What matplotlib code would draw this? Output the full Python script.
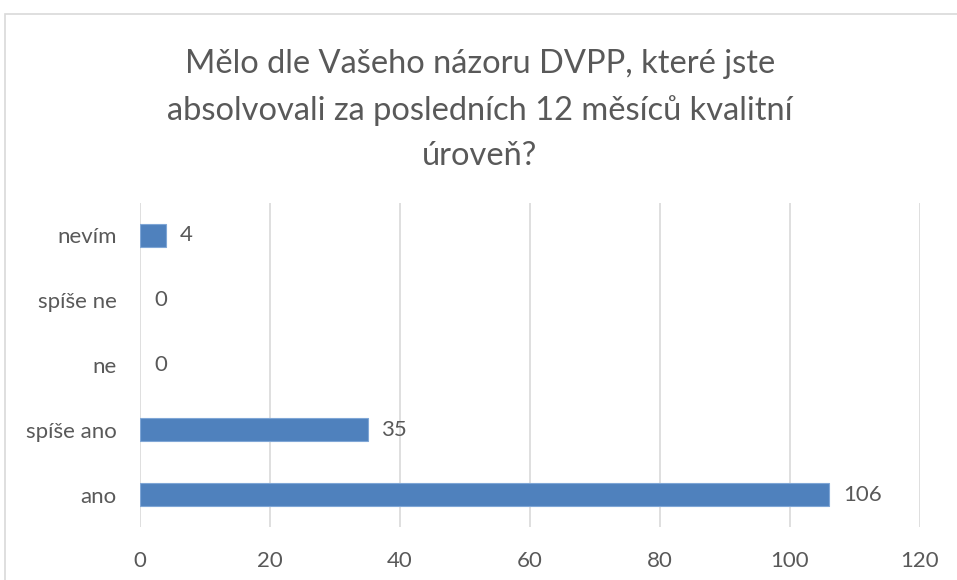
import matplotlib.pyplot as plt
from matplotlib.patches import Rectangle

categories = ['ano', 'spíše ano', 'ne', 'spíše ne', 'nevím']
values = [106, 35, 0, 0, 4]
title = 'Mělo dle Vašeho názoru DVPP, které jste\nabsolvovali za posledních 12 měsíců kvalitní\núroveň?'

plt.rcParams['font.family'] = ['Lato', 'DejaVu Sans']
text_color = '#595959'

fig = plt.figure(figsize=(9.57, 5.8), dpi=100)
ax = fig.add_axes([140 / 957, 53 / 580, 780 / 957, 324 / 580])

# chart border
fig.patches.append(Rectangle((4.5 / 957, -0.05), 1.0, 1 - 13.5 / 580 + 0.05,
                             transform=fig.transFigure, fill=False,
                             edgecolor='#d9d9d9', linewidth=1.2))

y = range(len(categories))
edges = ['#7fa6d6' if v > 0 else 'none' for v in values]
ax.barh(y, values, height=0.35, color='#4f81bd', edgecolor=edges, linewidth=0.8, zorder=3)
for i, v in enumerate(values):
    ax.annotate(str(v), (v, i), xytext=(10, 0), textcoords='offset points',
                va='center', ha='left', fontsize=16, color=text_color)

ax.set_xlim(0, 120)
ax.set_ylim(-0.5, len(categories) - 0.5)
ax.set_xticks(range(0, 121, 20))
ax.set_yticks(list(y))
ax.set_yticklabels(categories)
ax.tick_params(axis='both', length=0, labelsize=16, labelcolor=text_color)
ax.tick_params(axis='x', pad=17)
ax.tick_params(axis='y', pad=17)
ax.grid(axis='x', color='#d9d9d9', linewidth=1.2, zorder=0)
for s in ax.spines.values():
    s.set_visible(False)

fig.text(480 / 957, 1 - 110 / 580, title, ha='center', va='center',
         fontsize=23.5, color=text_color, linespacing=1.65)

fig.savefig('out.png', dpi=100)
